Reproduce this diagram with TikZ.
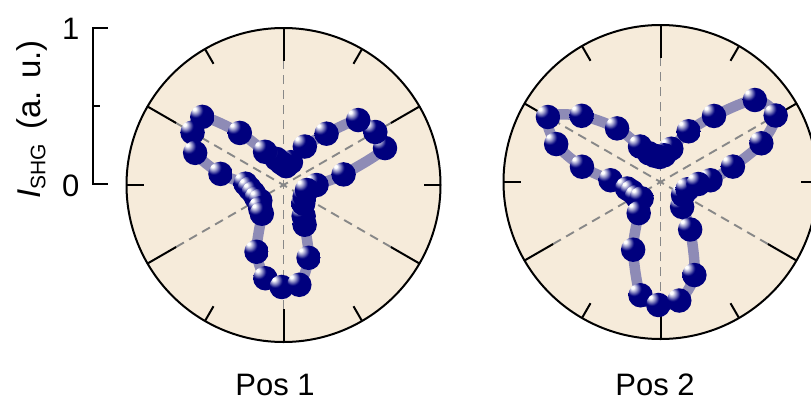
\documentclass[tikz,border=0pt]{standalone}
\usepackage{fontspec}
\setmainfont{Liberation Sans}
\definecolor{bg}{HTML}{F6EBDA}
\definecolor{ballC}{HTML}{00007E}
\definecolor{lineC}{HTML}{8E8BB6}
\definecolor{dashC}{HTML}{888888}
\pgfdeclareradialshading{sphere}{\pgfqpoint{-17bp}{17bp}}{color(0bp)=(white); color(3bp)=(white); color(8bp)=(ballC!40!white); color(15bp)=(ballC); color(60bp)=(ballC); color(80bp)=(ballC!90!black)}
\tikzset{
  ball/.style={circle, inner sep=0pt, minimum size=24.5pt, shade, shading=sphere},
  dataline/.style={line width=10.5pt, lineC, line join=round},
  frame/.style={line width=2pt, black},
  tickline/.style={line width=2pt, black},
  dashline/.style={line width=1.9pt, dashC, dash pattern=on 9pt off 6pt},
  lbl/.style={font=\fontsize{31}{36}\selectfont, inner sep=0pt},
}
\begin{document}
\begin{tikzpicture}[x=1pt,y=-1pt]
\useasboundingbox (0,0) rectangle (811,400);
\clip (0,0) rectangle (811,400);
% ---- intensity axis
\coordinate (ax1) at (93.3,28.3);
\coordinate (axh) at (93.3,106.3);
\coordinate (ax0) at (93.3,184.3);
\draw[tickline, line cap=rect] ([xshift=13.5pt]ax1) -- (ax1) -- (ax0) -- ([xshift=13.5pt]ax0);
\draw[tickline] (axh) -- ([xshift=7pt]axh);
\node[lbl, anchor=base east] (one) at (79.5,39) {1};
\node[lbl, anchor=base east] (zero) at (79.5,196) {0};
\node[lbl, font=\fontsize{33}{38}\selectfont, rotate=90, anchor=base west] (ylab) at (40.5,199)
  {\textit{I}\raisebox{-5pt}{\fontsize{21}{21}\selectfont SHG}\,\ (a. u.)};
% ---- polar frames
\foreach \cx/\cy in {283.5/185, 660.5/182}{
  \begin{scope}[shift={(\cx,\cy)}]
    \fill[bg] (0,0) circle[radius=157];
    \foreach \a in {30,90,150} \draw[dashline] (\a:124) -- (\a+180:124);
    \foreach \a in {30,90,...,330} \draw[tickline] (\a:157) -- (\a:124);
    \foreach \a in {0,60,...,300} \draw[tickline] (\a:157) -- (\a:140);
    \draw[frame] (0,0) circle[radius=157];
  \end{scope}
}
% ---- Pos 1 data
\begin{scope}[shift={(283.5,185)}, yscale=-1]
  \draw[dataline] plot[smooth cycle] coordinates {(0:33) (10:61) (20:108) (30:106) (41:99) (50:67) (61:44) (72:24) (82:19) (95:22) (105:27) (119:38) (130:68) (140:106) (150:105) (160:94) (170:64) (178:38) (186:34) (195:31) (206:30) (214:28) (225:33) (233:36) (248:72) (259:95) (269:102) (279:101) (289:77) (298:45) (303:37) (317:27) (332:24) (348:24)};
  \foreach \p [count=\i] in {(0:33),(10:61),(20:108),(30:106),(41:99),(50:67),(61:44),(72:24),(82:19),(95:22),(105:27),(119:38),(130:68),(140:106),(150:105),(160:94),(170:64),(178:38),(186:34),(195:31),(206:30),(214:28),(225:33),(233:36),(248:72),(259:95),(269:102),(279:101),(289:77),(298:45),(303:37),(317:27),(332:24),(348:24)}
    \node[ball] (L\i) at \p {};
\end{scope}
% ---- Pos 2 data
\begin{scope}[shift={(660.5,182)}, yscale=-1]
  \draw[dataline] plot[smooth cycle] coordinates {(2:50) (12:74) (21:108) (30:133) (41:125) (51:85) (61:58) (72:35) (82:27) (92:25) (103:27) (112:31) (120:41) (129:69) (140:103) (150:130) (160:111) (169:80) (178:50) (191:34) (199:30) (212:28) (221:25) (235:38) (248:73) (260:115) (269:123) (279:120) (290:99) (302:56) (311:33) (330:26) (345:28) (357:38)};
  \foreach \p [count=\i] in {(2:50),(12:74),(21:108),(30:133),(41:125),(51:85),(61:58),(72:35),(82:27),(92:25),(103:27),(112:31),(120:41),(129:69),(140:103),(150:130),(160:111),(169:80),(178:50),(191:34),(199:30),(212:28),(221:25),(235:38),(248:73),(260:115),(269:123),(279:120),(290:99),(302:56),(311:33),(330:26),(345:28),(357:38)}
    \node[ball] (R\i) at \p {};
\end{scope}
% ---- titles
\node[lbl, anchor=base] (pos1) at (275,395) {Pos 1};
\node[lbl, anchor=base] (pos2) at (655,395) {Pos 2};
\end{tikzpicture}
\end{document}
